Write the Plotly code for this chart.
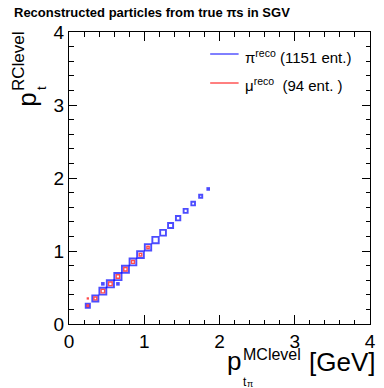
import numpy as np
import plotly.graph_objects as go

# ---- data (2D histogram bin centres and contents, bin width 0.1 GeV) ----
pi_x = [0.25, 0.35, 0.45, 0.55, 0.65, 0.75, 0.85, 0.95, 1.05, 1.15, 1.25, 1.35, 1.45, 1.55, 1.65, 1.75, 1.85, 0.45, 0.65]
pi_y = [0.25, 0.35, 0.45, 0.55, 0.65, 0.75, 0.85, 0.95, 1.05, 1.15, 1.25, 1.35, 1.45, 1.55, 1.65, 1.75, 1.85, 0.55, 0.55]
pi_n = [36, 77, 100, 106, 108, 102, 95, 95, 85, 85, 69, 53, 40, 34, 28, 20, 6, 6, 6]

mu_x = [0.25, 0.35, 0.45, 0.55, 0.65, 0.75, 0.85, 0.95, 1.05, 0.25]
mu_y = [0.25, 0.35, 0.45, 0.55, 0.65, 0.75, 0.85, 0.95, 1.05, 0.35]
mu_n = [3, 10, 14, 15, 14, 13, 10, 8, 6, 1]

x_ticks = [0, 1, 2, 3, 4]
y_ticks = [0, 1, 2, 3, 4]

FONT = "Liberation Sans, Arial, Helvetica, sans-serif"

W, H = 384, 388
L, R, T, B = 69, 8, 32, 64
PW, PH = W - L - R, H - T - B


def px(x):
    return (x - L) / PW


def py(y):
    return (H - B - y) / PH


def box_sizes(counts, max_px):
    c = np.asarray(counts, dtype=float)
    return max_px * np.sqrt(c / c.max())


fig = go.Figure()
fig.add_trace(go.Scatter(
    x=pi_x, y=pi_y, mode="markers", showlegend=False, hoverinfo="skip",
    marker=dict(symbol="square-open", size=box_sizes(pi_n, 7.2), color="#0000ff",
                line=dict(width=1.9, color="#0000ff")),
))
fig.add_trace(go.Scatter(
    x=mu_x, y=mu_y, mode="markers", showlegend=False, hoverinfo="skip",
    marker=dict(symbol="square-open", size=box_sizes(mu_n, 3.6), color="#ff0000",
                line=dict(width=1.4, color="#ff0000")),
))

axis_common = dict(
    range=[0, 4], showgrid=False, zeroline=False, showline=True, linecolor="black", linewidth=1,
    mirror="ticks", ticks="inside", tickcolor="black", tickwidth=1,
    tickfont=dict(family=FONT, size=19, color="black"),
    minor=dict(dtick=0.2, ticks="inside", ticklen=4.5, tickcolor="black", tickwidth=1),
)
fig.update_xaxes(**axis_common, tickvals=x_ticks, ticklen=9)
fig.update_yaxes(**axis_common, tickvals=y_ticks, ticklen=8)

ann = []


def add_text(text, x, y, size, xanchor="left", yanchor="middle", angle=0, bold=False):
    ann.append(dict(text=text, x=x, y=y, xref="paper", yref="paper", showarrow=False,
                    xanchor=xanchor, yanchor=yanchor, textangle=angle, borderpad=0,
                    font=dict(family=FONT, size=size, color="black",
                              weight="bold" if bold else "normal")))


# title
add_text("Reconstructed particles from true πs in SGV", px(12), py(12.5), 13, bold=True)

# x-axis title pieces
add_text("p", px(229), py(370 - 9.1), 26)
add_text("MClevel", px(245), py(360 - 6), 16)
add_text("t", px(245), py(386 - 4.2), 12)
add_text("π", px(250), py(387 - 3.2), 9)
add_text("[GeV]", px(313), py(371 - 9.1), 26)

# y-axis title pieces (rotated)
add_text("p", px(35 - 9.1), py(108), 26, xanchor="center", yanchor="bottom", angle=-90)
add_text("RClevel", px(23 - 6), py(92), 17, xanchor="center", yanchor="bottom", angle=-90)
add_text("t", px(45 - 4.5), py(91), 13, xanchor="center", yanchor="bottom", angle=-90)

# legend
add_text("π<sup>reco</sup> (1151 ent.)", px(247), py(56), 15)
add_text("μ<sup>reco</sup>&nbsp;&nbsp;(94 ent. )", px(247), py(85), 15)

shapes = [
    dict(type="line", xref="paper", yref="paper", x0=px(213), x1=px(242), y0=py(54), y1=py(54),
         line=dict(color="#0000ff", width=1)),
    dict(type="line", xref="paper", yref="paper", x0=px(213), x1=px(242), y0=py(83), y1=py(83),
         line=dict(color="#ff0000", width=1)),
]

fig.update_layout(
    width=W, height=H, margin=dict(l=L, r=R, t=T, b=B, pad=0),
    paper_bgcolor="white", plot_bgcolor="white",
    annotations=ann, shapes=shapes, showlegend=False,
)

fig.write_html("out.html", config={"displayModeBar": False},
               post_script="document.body.style.margin='0';document.body.style.padding='0';")
